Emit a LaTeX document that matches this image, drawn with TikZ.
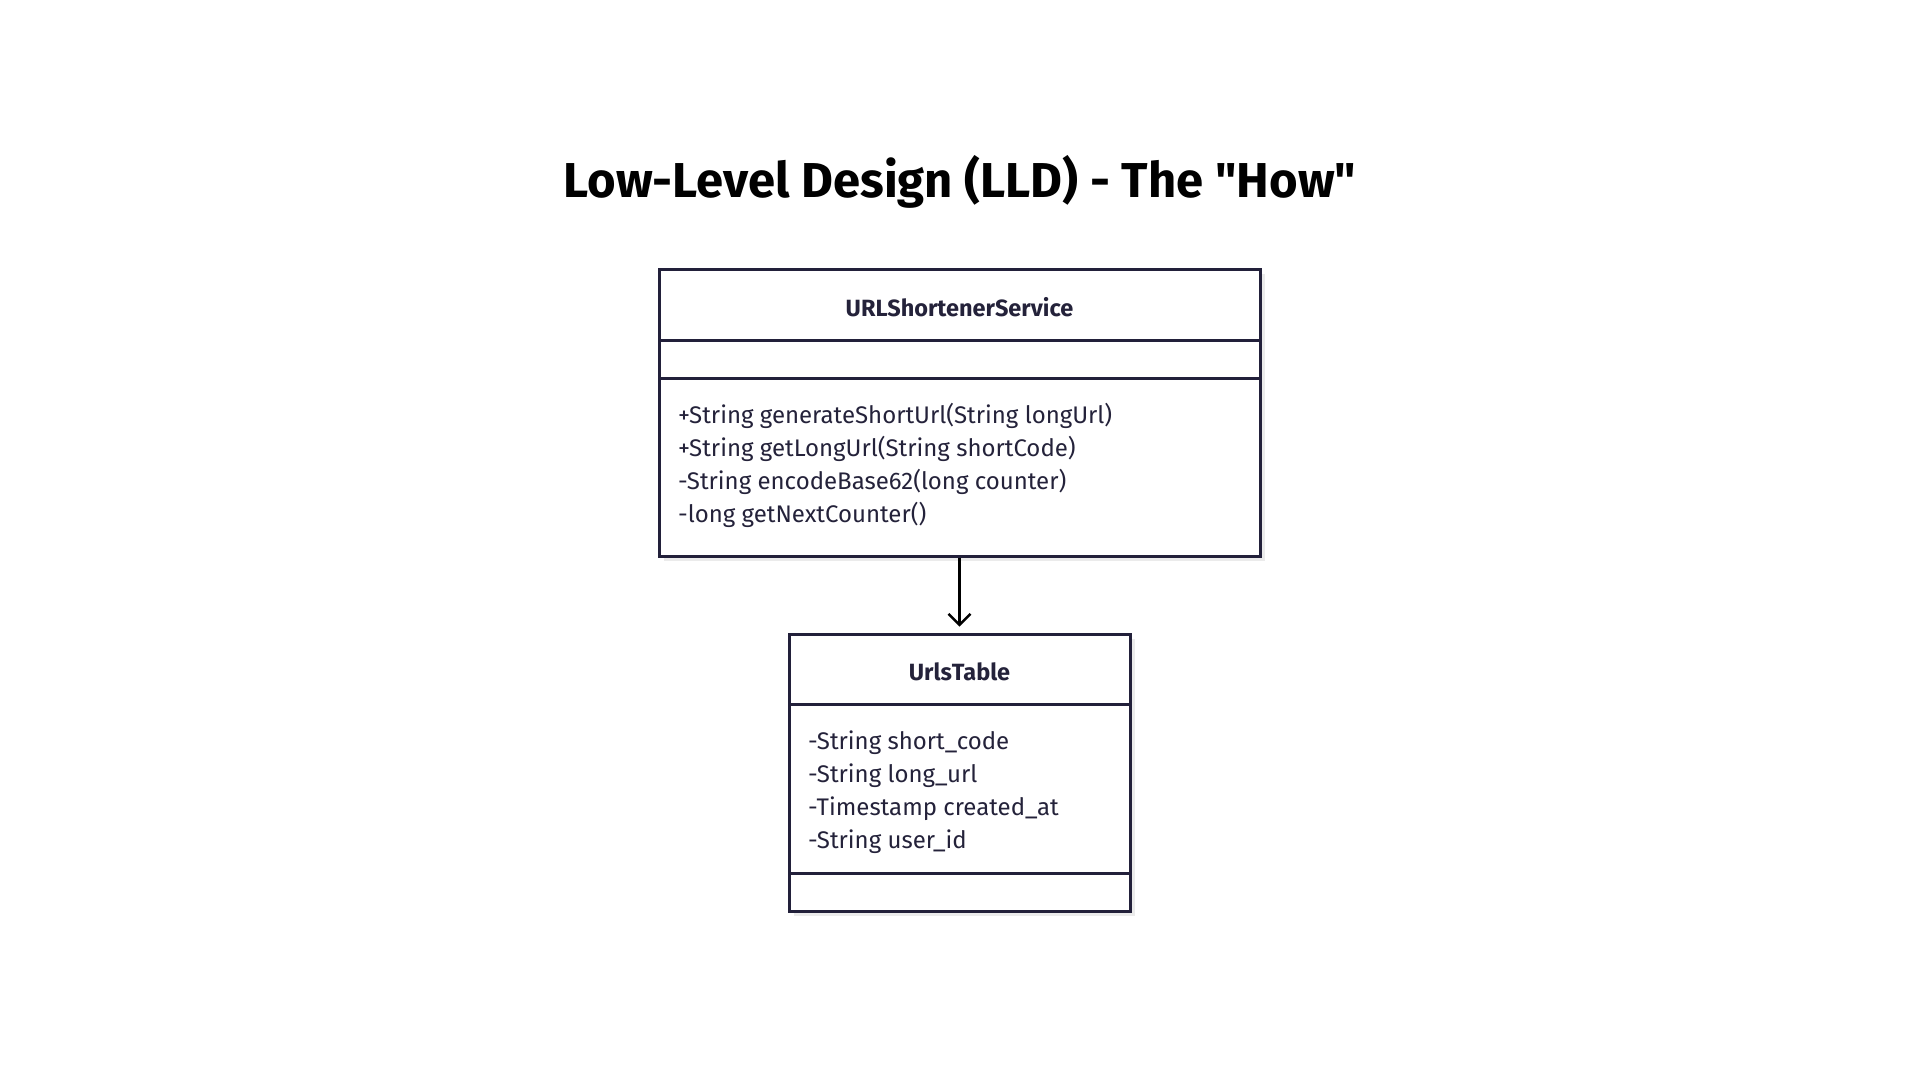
\documentclass[tikz,border=0pt]{standalone}
\usepackage{fontspec}
\newfontfamily\plainfont{Fira Sans}
\usetikzlibrary{arrows.meta,shadows}
\definecolor{ink}{HTML}{22203A}
\definecolor{txt}{HTML}{24223A}
\tikzset{
  umlbox/.style={draw=ink, line width=3pt, fill=white, rectangle, inner sep=0pt,
    drop shadow={shadow xshift=5pt, shadow yshift=-5pt, fill=black!8, opacity=1}},
  sepline/.style={draw=ink, line width=3pt},
  hdr/.style={font=\plainfont\fontsize{23.5}{28}\selectfont\bfseries, text=txt, inner sep=0pt},
  member/.style={font=\plainfont\fontsize{24}{28}\selectfont, text=txt, inner sep=0pt, anchor=west},
  conn/.style={draw=black, line width=2.6pt, -{Straight Barb[length=11pt,width=22pt,line width=2.4pt]}}
}
\begin{document}
\begin{tikzpicture}[x=1pt,y=-1pt]
\useasboundingbox (0,0) rectangle (1920,1080);
\fill[white] (0,0) rectangle (1920,1080);
\node[font=\plainfont\fontsize{49}{58}\selectfont\bfseries, text=black, inner sep=0pt] (title) at (960,182) {Low-Level Design (LLD) - The "How"};
% top class
\node[umlbox, minimum width=601pt, minimum height=287pt] (svc) at (959.5,412.5) {};
\draw[sepline] (659,340) -- (1260,340);
\draw[sepline] (659,378) -- (1260,378);
\node[hdr] (svcname) at (959.5,307) {URLShortenerService};
\node[member] (m1) at (678,416) {+String generateShortUrl(String longUrl)};
\node[member] (m2) at (678,449) {+String getLongUrl(String shortCode)};
\node[member] (m3) at (678,482) {-String encodeBase62(long counter)};
\node[member] (m4) at (678,515) {-long getNextCounter()};
% bottom class
\node[umlbox, minimum width=341pt, minimum height=277pt] (tbl) at (959.5,772.5) {};
\draw[sepline] (789,704) -- (1130,704);
\draw[sepline] (789,873) -- (1130,873);
\node[hdr] (tblname) at (959.5,672) {UrlsTable};
\node[member] (a1) at (808,743) {-String short\_code};
\node[member] (a2) at (808,776) {-String long\_url};
\node[member] (a3) at (808,809) {-Timestamp created\_at};
\node[member] (a4) at (808,842) {-String user\_id};
% connector
\draw[conn] (svc.south) -- ([yshift=6pt]tbl.north);
\end{tikzpicture}
\end{document}
